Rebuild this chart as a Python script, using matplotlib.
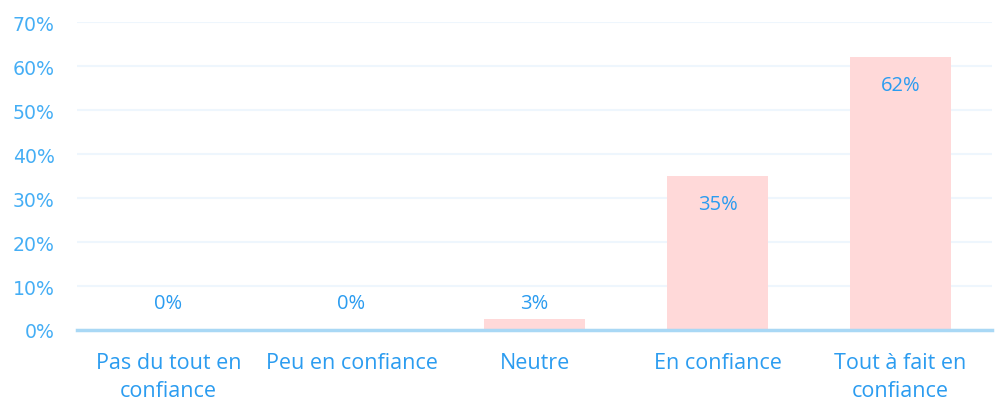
import numpy as np
import matplotlib
matplotlib.use('Agg')
import matplotlib.pyplot as plt

categories = ['Pas du tout en\nconfiance', 'Peu en confiance', 'Neutre',
              'En confiance', 'Tout à fait en\nconfiance']
values = [0, 0, 2.5, 35, 62]
labels = ['0%', '0%', '3%', '35%', '62%']
yticks = [0, 10, 20, 30, 40, 50, 60, 70]

blue = '#2b9cf0'
fig = plt.figure(figsize=(10.05, 4.14), dpi=100)
ax = fig.add_axes([0.0766, 0.2005, 0.9105, 0.7435])

x = np.arange(len(categories))
ax.bar(x, values, width=0.55, color='#ffd9d9', zorder=2)

for xi, v, lab in zip(x, values, labels):
    if v > 10:
        ax.annotate(lab, (xi, v), xytext=(0, -28), textcoords='offset pixels',
                    ha='center', va='center', color=blue, fontsize=14.5, family='Open Sans')
    else:
        ax.annotate(lab, (xi, 0), xytext=(0, 27), textcoords='offset pixels',
                    ha='center', va='center', color=blue, fontsize=14.5, family='Open Sans')

ax.set_xlim(-0.5, 4.5)
ax.set_ylim(0, 70)
ax.set_yticks(yticks)
ax.set_yticklabels([str(t) + '%' for t in yticks], color='#45aef5', fontsize=13.6)
ax.set_xticks(x)
ax.set_xticklabels(categories, color=blue, fontsize=15.5, family='Open Sans', linespacing=1.4)
ax.tick_params(length=0)
ax.tick_params(axis='y', pad=16)
ax.tick_params(axis='x', pad=16)
ax.grid(axis='y', color='#eef6fd', linewidth=1.5, zorder=0)
for s in ['top', 'right', 'left']:
    ax.spines[s].set_visible(False)
ax.spines['bottom'].set_color('#a9d8f5')
ax.spines['bottom'].set_linewidth(2.5)
ax.spines['bottom'].set_zorder(3)

fig.savefig('out.png', dpi=100)
